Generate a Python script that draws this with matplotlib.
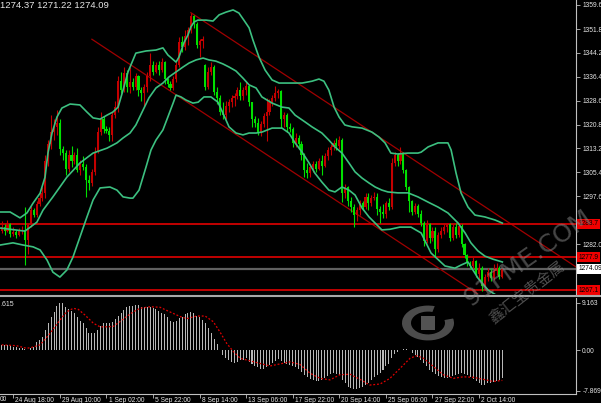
import numpy as np
import matplotlib
matplotlib.use("Agg")
import matplotlib.pyplot as plt
import matplotlib.transforms as mtransforms
from matplotlib.lines import Line2D
from matplotlib.patches import Wedge, Rectangle

# XAUUSD H4 candles
opens = [1286.5, 1287.6, 1286.5, 1288.5, 1285.5, 1286.0, 1285.2, 1286.3, 1286.8, 1283.4,
         1288.3, 1293.0, 1291.5, 1295.0, 1297.0, 1298.5, 1309.0, 1314.5, 1318.5, 1320.0,
         1321.5, 1313.0, 1311.5, 1306.5, 1311.0, 1309.0, 1311.0, 1306.0, 1308.0, 1307.0,
         1303.0, 1302.0, 1305.5, 1312.0, 1318.5, 1322.5, 1319.5, 1318.8, 1317.5, 1324.0,
         1326.5, 1335.0, 1332.0, 1337.5, 1333.0, 1334.5, 1333.0, 1336.5, 1332.0, 1331.0,
         1333.0, 1336.5, 1340.0, 1338.0, 1340.0, 1338.5, 1341.0, 1335.5, 1334.0, 1332.8,
         1335.5, 1340.0, 1347.5, 1346.0, 1349.5, 1351.5, 1356.0, 1353.5, 1346.5, 1347.8,
         1340.0, 1333.0, 1338.0, 1339.5, 1331.5, 1329.5, 1325.0, 1324.0, 1327.0, 1328.0,
         1329.5, 1330.0, 1332.0, 1330.0, 1332.0, 1333.2, 1328.0, 1322.5, 1321.5, 1318.5,
         1321.0, 1323.5, 1325.0, 1328.0, 1329.5, 1331.0, 1331.8, 1322.5, 1324.0, 1320.0,
         1319.5, 1315.0, 1316.5, 1314.5, 1311.0, 1306.0, 1305.0, 1307.0, 1308.0, 1306.5,
         1309.0, 1307.5, 1310.5, 1312.5, 1313.5, 1315.0, 1314.0, 1316.0, 1298.5, 1300.5,
         1296.0, 1294.0, 1291.5, 1293.0, 1295.5, 1294.0, 1297.5, 1295.5, 1297.0, 1297.5,
         1293.5, 1292.5, 1292.0, 1295.5, 1294.0, 1308.5, 1311.0, 1309.0, 1311.5, 1306.0,
         1300.5, 1296.0, 1292.5, 1294.5, 1292.0, 1289.0, 1283.0, 1288.5, 1284.0, 1286.5,
         1280.5, 1285.0, 1286.5, 1287.5, 1288.5, 1284.0, 1287.5, 1285.0, 1288.0, 1282.0,
         1278.5, 1276.0, 1275.0, 1276.5, 1272.5, 1274.5, 1268.5, 1271.5, 1273.0, 1271.0,
         1273.5, 1274.5, 1271.5]
highs = [1289.5, 1288.5, 1290.0, 1288.8, 1287.5, 1286.8, 1287.2, 1288.0, 1294.1, 1289.0,
         1294.5, 1293.8, 1296.0, 1298.5, 1300.5, 1311.0, 1316.0, 1323.9, 1322.5, 1325.5,
         1322.5, 1314.0, 1312.5, 1312.5, 1314.0, 1312.0, 1313.2, 1309.5, 1310.5, 1308.0,
         1304.5, 1306.5, 1313.5, 1320.0, 1325.0, 1323.5, 1320.5, 1320.0, 1325.0, 1328.5,
         1336.5, 1338.0, 1339.5, 1338.5, 1339.5, 1336.0, 1337.5, 1337.0, 1333.0, 1334.0,
         1338.0, 1344.0, 1341.5, 1341.0, 1341.5, 1342.5, 1341.5, 1336.0, 1335.0, 1336.5,
         1341.0, 1349.2, 1349.5, 1351.5, 1352.5, 1357.1, 1356.5, 1354.0, 1348.5, 1349.5,
         1340.5, 1339.5, 1341.0, 1340.0, 1333.0, 1330.5, 1328.0, 1328.5, 1329.0, 1330.5,
         1331.0, 1333.0, 1334.5, 1333.0, 1334.5, 1333.5, 1328.0, 1323.5, 1323.0, 1322.0,
         1324.5, 1329.5, 1329.0, 1330.5, 1333.5, 1332.5, 1332.0, 1325.0, 1324.5, 1321.5,
         1320.0, 1318.0, 1317.5, 1315.5, 1311.5, 1308.5, 1308.0, 1309.0, 1309.0, 1310.0,
         1311.0, 1311.5, 1313.5, 1314.5, 1316.0, 1316.5, 1317.0, 1316.5, 1301.5, 1301.0,
         1297.5, 1295.0, 1294.0, 1296.5, 1296.0, 1298.5, 1298.5, 1298.0, 1299.0, 1298.5,
         1294.5, 1295.0, 1296.0, 1297.0, 1310.0, 1312.0, 1311.5, 1313.5, 1312.0, 1306.5,
         1301.0, 1296.5, 1295.5, 1295.0, 1293.0, 1289.5, 1290.0, 1289.0, 1287.5, 1287.5,
         1286.0, 1287.5, 1288.5, 1289.0, 1289.0, 1288.5, 1289.0, 1289.0, 1288.5, 1282.5,
         1279.0, 1276.5, 1278.0, 1277.0, 1276.0, 1275.0, 1272.5, 1274.5, 1274.5, 1275.5,
         1276.0, 1275.0, 1274.37]
lows = [1285.8, 1285.0, 1286.0, 1284.5, 1284.8, 1284.0, 1284.6, 1285.5, 1275.3, 1278.9,
        1287.8, 1290.8, 1291.0, 1294.5, 1296.0, 1297.0, 1307.5, 1313.0, 1316.0, 1317.5,
        1311.0, 1309.5, 1304.5, 1305.5, 1307.0, 1308.0, 1305.5, 1304.5, 1306.0, 1297.5,
        1299.5, 1301.0, 1304.5, 1311.5, 1317.5, 1318.0, 1318.0, 1315.5, 1315.5, 1323.0,
        1325.0, 1331.0, 1331.5, 1331.5, 1331.0, 1332.0, 1332.0, 1330.0, 1328.5, 1326.5,
        1331.5, 1335.0, 1337.0, 1337.5, 1337.0, 1338.0, 1334.0, 1333.0, 1332.0, 1332.0,
        1334.5, 1339.5, 1344.5, 1345.0, 1346.5, 1350.5, 1352.0, 1345.5, 1342.7, 1345.5,
        1332.0, 1332.5, 1337.0, 1330.5, 1327.5, 1324.0, 1322.5, 1322.5, 1325.0, 1326.5,
        1327.0, 1329.0, 1328.8, 1328.8, 1330.5, 1327.0, 1320.1, 1320.0, 1317.5, 1317.0,
        1320.0, 1315.5, 1324.0, 1327.0, 1328.5, 1329.5, 1319.7, 1320.0, 1318.5, 1318.5,
        1313.5, 1313.5, 1313.0, 1309.5, 1304.0, 1303.5, 1304.0, 1305.5, 1305.5, 1306.0,
        1304.5, 1307.0, 1309.5, 1311.0, 1312.5, 1312.5, 1313.0, 1295.7, 1297.0, 1294.5,
        1292.5, 1287.5, 1289.5, 1291.5, 1293.0, 1293.5, 1293.1, 1294.5, 1296.5, 1291.5,
        1289.0, 1290.5, 1290.5, 1293.0, 1293.5, 1307.5, 1307.5, 1308.0, 1305.0, 1299.5,
        1292.5, 1291.5, 1292.0, 1291.0, 1288.0, 1281.5, 1282.5, 1282.5, 1283.0, 1278.0,
        1279.5, 1284.0, 1285.5, 1286.0, 1283.0, 1283.5, 1284.0, 1284.5, 1281.0, 1277.5,
        1275.0, 1274.0, 1273.5, 1271.5, 1270.5, 1267.0, 1268.0, 1270.0, 1270.0, 1270.5,
        1272.0, 1270.8, 1271.22]
closes = [1287.6, 1286.5, 1288.5, 1285.5, 1286.0, 1285.2, 1286.3, 1286.8, 1283.4, 1288.3,
          1293.0, 1291.5, 1295.0, 1297.0, 1298.5, 1309.0, 1314.5, 1318.5, 1320.0, 1321.5,
          1313.0, 1311.5, 1306.5, 1311.0, 1309.0, 1311.0, 1306.0, 1308.0, 1307.0, 1303.0,
          1302.0, 1305.5, 1312.0, 1318.5, 1322.5, 1319.5, 1318.8, 1317.5, 1324.0, 1326.5,
          1335.0, 1332.0, 1337.5, 1333.0, 1334.5, 1333.0, 1336.5, 1332.0, 1331.0, 1333.0,
          1336.5, 1340.0, 1338.0, 1340.0, 1338.5, 1341.0, 1335.5, 1334.0, 1332.8, 1335.5,
          1340.0, 1347.5, 1346.0, 1349.5, 1351.5, 1356.0, 1353.5, 1346.5, 1347.8, 1348.5,
          1333.0, 1338.0, 1339.5, 1331.5, 1329.5, 1325.0, 1324.0, 1327.0, 1328.0, 1329.5,
          1330.0, 1332.0, 1330.0, 1332.0, 1333.2, 1328.0, 1322.5, 1321.5, 1318.5, 1321.0,
          1323.5, 1325.0, 1328.0, 1329.5, 1331.0, 1331.8, 1322.5, 1324.0, 1320.0, 1319.5,
          1315.0, 1316.5, 1314.5, 1311.0, 1306.0, 1305.0, 1307.0, 1308.0, 1306.5, 1309.0,
          1307.5, 1310.5, 1312.5, 1313.5, 1315.0, 1314.0, 1316.0, 1298.5, 1300.5, 1296.0,
          1294.0, 1291.5, 1293.0, 1295.5, 1294.0, 1297.5, 1295.5, 1297.0, 1297.5, 1293.5,
          1292.5, 1292.0, 1295.5, 1294.0, 1308.5, 1311.0, 1309.0, 1311.5, 1306.0, 1300.5,
          1296.0, 1292.5, 1294.5, 1292.0, 1289.0, 1283.0, 1288.5, 1284.0, 1286.5, 1280.5,
          1285.0, 1286.5, 1287.5, 1288.5, 1284.0, 1287.5, 1285.0, 1288.0, 1282.0, 1278.5,
          1276.0, 1275.0, 1276.5, 1272.5, 1274.5, 1268.5, 1271.5, 1273.0, 1271.0, 1273.5,
          1274.5, 1271.5, 1274.09]

# Bollinger bands, sampled along the curves (bar index, price)
bb_upper_idx = [-0.5, 2.9, 6.3, 8.7, 10.8, 13.2, 14.9, 15.9, 17.3, 19.0, 20.7, 23.5, 26.9,
                29.3, 31.4, 33.8, 36.2, 38.2, 40.0, 41.7, 43.4, 46.1, 49.6, 53.0, 55.4,
                57.1, 59.9, 60.9, 62.6, 64.0, 65.0, 66.1, 67.4, 70.2, 72.6, 74.7, 77.1,
                79.5, 81.5, 83.2, 85.0, 86.3, 88.4, 90.5, 92.9, 95.3, 99.7, 103.2, 106.6,
                109.0, 110.7, 112.4, 114.2, 115.9, 117.9, 120.4, 123.8, 127.2, 129.6, 131.7,
                133.7, 136.1, 139.6, 143.0, 144.1, 146.5, 149.9, 153.3, 154.4, 156.1, 157.8,
                160.2, 162.6, 166.0, 169.5, 172.0]
bb_upper = [1292.5, 1292.5, 1290.6, 1292.2, 1295.4, 1298.6, 1303.8, 1311.6, 1318.1, 1323.3,
            1326.2, 1327.5, 1327.2, 1324.9, 1323.0, 1322.6, 1323.9, 1324.9, 1326.5, 1332.0,
            1337.9, 1344.0, 1344.7, 1345.0, 1345.7, 1343.4, 1341.1, 1342.7, 1347.3, 1349.9,
            1352.5, 1354.1, 1354.7, 1354.7, 1354.4, 1356.4, 1357.3, 1358.0, 1357.0, 1354.7,
            1352.2, 1348.3, 1342.7, 1338.5, 1335.3, 1334.3, 1334.3, 1334.3, 1334.9, 1335.6,
            1334.9, 1332.0, 1326.5, 1323.3, 1320.7, 1320.1, 1319.7, 1318.4, 1316.8, 1314.9,
            1311.6, 1311.3, 1311.6, 1311.6, 1311.9, 1313.6, 1314.9, 1314.9, 1312.6, 1305.1,
            1298.7, 1294.1, 1291.5, 1290.9, 1289.9, 1288.9]
bb_mid_idx = [-0.5, 4.6, 8.0, 12.1, 14.2, 17.6, 22.4, 26.9, 31.4, 36.2, 39.6, 41.7, 44.1,
              46.1, 48.6, 50.6, 53.0, 55.4, 57.5, 59.9, 62.3, 64.4, 66.8, 69.2, 71.2, 73.6,
              76.0, 78.1, 80.5, 82.9, 85.0, 87.4, 89.4, 92.9, 96.3, 98.7, 100.8, 104.2,
              106.6, 110.0, 112.4, 114.5, 116.9, 119.3, 121.4, 123.8, 126.2, 128.3, 130.6,
              132.7, 136.1, 139.6, 143.0, 146.5, 149.9, 153.3, 156.8, 159.2, 161.2, 163.6,
              166.0, 168.8, 172.0]
bb_mid = [1287.3, 1286.7, 1286.3, 1289.2, 1293.1, 1297.4, 1303.8, 1308.4, 1311.6, 1313.2,
          1314.9, 1316.5, 1318.1, 1320.7, 1325.6, 1329.5, 1332.7, 1334.3, 1336.3, 1337.9,
          1339.5, 1340.8, 1341.8, 1342.4, 1341.8, 1341.4, 1340.5, 1339.5, 1338.2, 1335.9,
          1333.7, 1332.7, 1329.8, 1327.8, 1326.5, 1326.2, 1323.9, 1321.7, 1320.1, 1318.1,
          1315.8, 1313.6, 1311.6, 1308.4, 1305.5, 1303.5, 1301.9, 1300.6, 1299.6, 1299.0,
          1298.7, 1298.7, 1297.4, 1295.7, 1294.1, 1292.2, 1288.9, 1285.7, 1282.5, 1279.9,
          1278.2, 1277.2, 1276.3]
bb_lower_idx = [-0.5, 3.9, 7.3, 10.8, 13.2, 15.6, 17.6, 20.0, 22.4, 24.5, 26.9, 29.3, 31.4,
                33.8, 37.2, 39.6, 41.7, 44.1, 45.1, 47.2, 49.6, 51.3, 53.0, 55.4, 57.1, 58.9,
                59.9, 61.6, 63.3, 65.7, 67.5, 69.5, 71.9, 74.3, 76.0, 78.1, 80.5, 82.9, 85.0,
                87.4, 89.4, 92.9, 96.3, 98.7, 100.8, 103.2, 105.6, 107.6, 110.0, 112.4, 114.5,
                116.9, 119.3, 121.4, 123.8, 126.2, 128.3, 130.6, 133.4, 136.8, 140.6, 144.1,
                147.5, 152.3, 155.7, 157.8, 160.2, 163.6, 167.1, 169.8, 172.0]
bb_lower = [1281.8, 1282.5, 1281.8, 1281.2, 1280.2, 1276.9, 1273.0, 1271.4, 1273.7, 1277.9,
            1284.4, 1290.9, 1296.4, 1300.3, 1300.6, 1299.6, 1297.4, 1297.0, 1297.0, 1299.6,
            1307.1, 1312.6, 1315.8, 1319.1, 1323.3, 1327.8, 1330.4, 1329.8, 1328.8, 1327.8,
            1328.1, 1329.8, 1329.8, 1328.1, 1324.6, 1320.1, 1318.1, 1317.5, 1318.1, 1318.1,
            1318.4, 1319.7, 1319.7, 1318.1, 1314.9, 1311.9, 1308.4, 1305.1, 1302.2, 1299.6,
            1299.0, 1300.6, 1299.6, 1298.0, 1293.8, 1290.9, 1288.9, 1286.7, 1286.9, 1287.6,
            1287.6, 1285.7, 1279.2, 1275.0, 1274.3, 1275.3, 1276.3, 1271.1, 1267.2, 1265.6,
            1264.6]

# MACD histogram, one value per bar
macd_hist = [0.97, 0.97, 0.9, 0.8, 0.65, 0.55, 0.45, 0.35, 0.2, 0.1,
             0.4, 0.65, 1.62, 1.94, 2.59, 3.88, 5.18, 6.47, 7.44, 8.54,
             9.06, 9.06, 8.41, 7.9, 7.64, 7.12, 6.34, 5.7, 5.18, 4.21,
             3.37, 3.24, 3.37, 3.88, 4.66, 5.18, 5.31, 5.31, 5.5, 5.95,
             6.6, 7.12, 7.77, 8.28, 8.54, 8.6, 8.67, 8.73, 8.41, 8.28,
             8.28, 8.28, 8.09, 7.9, 7.64, 7.25, 6.99, 6.47, 5.7, 5.5,
             5.7, 6.15, 6.47, 6.99, 7.25, 7.44, 7.12, 6.6, 6.47, 5.83,
             5.18, 4.21, 3.24, 2.07, 1.1, 0.1, -0.97, -1.62, -1.94, -2.27,
             -2.46, -2.27, -1.94, -1.94, -1.62, -2.27, -2.72, -3.11, -3.37, -3.75,
             -3.75, -3.37, -2.91, -2.46, -2.07, -1.81, -2.07, -2.46, -2.72, -2.91,
             -3.11, -3.37, -3.75, -4.2, -4.8, -5.3, -5.7, -5.9, -6.1, -6.1,
             -5.9, -5.5, -5.0, -4.7, -4.5, -4.7, -4.9, -5.8, -6.5, -7.1,
             -7.4, -7.6, -7.6, -7.4, -7.1, -6.8, -6.5, -5.9, -5.3, -4.8,
             -4.4, -3.9, -3.2, -2.7, -1.6, -0.8, -0.3, 0.05, 0.15, 0.15,
             -0.05, -0.5, -1.0, -1.3, -1.9, -2.6, -3.2, -3.8, -4.2, -4.7,
             -5.0, -5.3, -5.5, -5.5, -5.3, -5.0, -4.8, -4.7, -4.5, -4.7,
             -4.8, -5.3, -5.7, -6.1, -6.5, -6.7, -6.7, -6.5, -6.5, -6.3,
             -6.1, -5.9, -5.5]
# signal line, sampled (bar index, value)
sig_idx = [0, 5, 8.5, 10, 13.2, 16.6, 20.0, 22.3, 24.6, 26.3, 28.6, 31.5, 33.8, 36.1, 38.4,
           40.6, 42.9, 45.2, 47.5, 51.0, 54.4, 57.8, 61.3, 63.6, 67.0, 69.9, 72.7, 75.0,
           77.3, 79.6, 81.9, 85.3, 88.7, 92.2, 95.6, 99.0, 102.5, 105.9, 109.4, 112.8,
           116.2, 119.7, 123.1, 126.5, 130.0, 133.4, 136.8, 140.3, 142.6, 144.9, 148.3,
           151.7, 155.2, 158.6, 162.0, 165.5, 168.9, 172.0]
sig_val = [1.0, 0.85, 0.35, 0.45, 1.0, 3.2, 5.8, 7.4, 8.1, 7.9, 6.8, 5.2, 4.5, 4.5, 4.6,
           5.5, 6.5, 7.4, 8.1, 8.4, 8.3, 7.4, 6.5, 6.1, 6.6, 6.6, 5.5, 3.5,
           1.3, -0.3, -1.6, -2.1, -2.6, -3.1, -2.7, -2.3, -2.8, -4.5, -5.5, -5.8,
           -4.8, -4.7, -5.7, -6.8, -6.6, -5.5, -3.6, -1.6, -1.1, -1.6, -3.2,
           -4.8, -5.5, -5.2, -5.3, -5.7, -6.1, -5.9]

# drawn objects
chan_upper_idx = [65, 197.3]
chan_upper_px = [1357.1, 1274.7]
chan_lower_idx = [31, 197.3]
chan_lower_px = [1348.5, 1244.9]
levels = [1288.7, 1277.9, 1267.1]
level_labels = ["1288.7", "1277.9", "1267.1"]
last_close = 1274.09

price_ticks = [1359.6, 1351.8, 1344.2, 1336.4, 1328.6, 1320.8, 1313.2, 1305.4, 1297.6, 1282.0]
macd_ticks = [9.163, 0.0, -7.869]
macd_tick_labels = ["9.163", "0.00", "-7.869"]
time_idx = [4, 20, 36, 52, 68, 84, 100, 116, 132, 148, 164]
time_labels = ["24 Aug 18:00", "29 Aug 10:00", "1 Sep 02:00", "5 Sep 22:00",
               "8 Sep 14:00", "13 Sep 06:00", "17 Sep 22:00", "20 Sep 14:00", "25 Sep 06:00",
               "27 Sep 22:00", "2 Oct 14:00"]

UP = '#c40000'
DOWN = '#00e000'
BAND = '#3cc080'
TXT = '#e6e6e6'
AXC = '#c0c0c0'
FONT = 'Liberation Sans'

W, H = 601, 403
fig = plt.figure(figsize=(W / 100, H / 100), dpi=100, facecolor='black')
ax = fig.add_axes([0, 1 - 294 / H, 576 / W, 294 / H], facecolor='black')
axm = fig.add_axes([0, 1 - 394 / H, 576 / W, 96 / H], facecolor='black')

o = np.array(opens)
h = np.array(highs)
l = np.array(lows)
c = np.array(closes)
x = np.arange(len(c))
col = np.where(c >= o, UP, DOWN)

ax.vlines(x, l, h, colors=col, lw=0.8, zorder=3)
ax.bar(x, np.maximum(np.abs(c - o), 0.3), bottom=np.minimum(o, c), width=0.72,
       color=col, linewidth=0, zorder=3)

for bi, bv in [(bb_upper_idx, bb_upper), (bb_mid_idx, bb_mid), (bb_lower_idx, bb_lower)]:
    ax.plot(bi, bv, color=BAND, lw=1.2, zorder=4)

ax.plot(chan_upper_idx, chan_upper_px, color='#a00000', lw=0.9, zorder=2)
ax.plot(chan_lower_idx, chan_lower_px, color='#a00000', lw=0.9, zorder=2)
for lv in levels:
    ax.axhline(lv, color='#d00000', lw=1.3, zorder=2)
ax.axhline(last_close, color='#606060', lw=1.6, zorder=1)

ax.set_xlim(-0.57, 197.3)
ax.set_ylim(1265.92, 1361.22)
axm.set_xlim(-0.57, 197.3)
axm.set_ylim(-8.54, 10.1)

for a in (ax, axm):
    for s in ('top', 'left', 'bottom'):
        a.spines[s].set_visible(False)
    a.spines['right'].set_color(AXC)
    a.spines['right'].set_linewidth(0.8)
    a.yaxis.tick_right()
    a.tick_params(axis='y', direction='out', length=3, width=0.6, color=AXC,
                  labelsize=4.8, labelcolor=TXT, pad=1.5)
axm.spines['bottom'].set_visible(True)
axm.spines['bottom'].set_color(AXC)
axm.spines['bottom'].set_linewidth(0.8)

ax.set_xticks([])
ax.set_yticks(price_ticks)
ax.set_yticklabels([f"{v:.1f}" for v in price_ticks], fontfamily=FONT)

axm.bar(x, macd_hist, width=0.35, color='#b8b8b8', linewidth=0)
axm.plot(sig_idx, sig_val, color='#e00000', lw=0.9, ls=(0, (1.5, 1.5)))
axm.set_yticks(macd_ticks)
axm.set_yticklabels(macd_tick_labels, fontfamily=FONT)
axm.set_xticks(time_idx)
axm.set_xticklabels([])
axm.tick_params(axis='x', direction='out', length=3, width=0.6, color=AXC)
for ti, tl in zip(time_idx, time_labels):
    axm.annotate(tl, xy=(ti, 0), xycoords=('data', 'axes fraction'), xytext=(1.5, -2.5),
                 textcoords='offset points', ha='left', va='top', fontsize=4.8,
                 color=TXT, fontfamily=FONT, annotation_clip=False)
# tail of the previous date label, cut by the left edge
fig.text(0.0, 1 - 396 / H, "00", ha='left', va='top', fontsize=4.8, color=TXT,
         fontfamily=FONT)

# price boxes on the axis
bt = mtransforms.blended_transform_factory(ax.transAxes, ax.transData)
for lv, lt in zip(levels, level_labels):
    ax.text(1.004, lv, lt, transform=bt, ha='left', va='center', fontsize=4.8,
            fontfamily=FONT, color='black', clip_on=False, zorder=6,
            bbox=dict(boxstyle='square,pad=0.25', fc='#f00000', ec='none'))
ax.text(1.004, last_close, f"{last_close:.2f}", transform=bt, ha='left', va='center',
        fontsize=4.8, fontfamily=FONT, color='black', clip_on=False, zorder=6,
        bbox=dict(boxstyle='square,pad=0.25', fc='white', ec='none'))

# separator between panels
fig.add_artist(Line2D([0, 1], [1 - 296 / H] * 2, color='#a8a8a8', lw=1.5))

fig.text(0.0, 1 - 0.5 / H, "1274.37 1271.22 1274.09", ha='left', va='top', fontsize=6.8,
         color=TXT, fontfamily=FONT)
fig.text(0.0, 1 - 305 / H, ".615", ha='left', va='center', fontsize=5, color=TXT,
         fontfamily=FONT)

# watermark
wm = '#8c8c8c'
fig.text(528 / W, 1 - 258 / H, "91FME.COM", rotation=35, ha='center', va='center',
         fontsize=18, color=wm, alpha=0.5, fontfamily='DejaVu Sans')
fig.text(527 / W, 1 - 292 / H, "鑫汇宝贵金属", rotation=38, ha='center', va='center',
         fontsize=11, color=wm, alpha=0.55, fontfamily=['Noto Sans CJK SC', 'DejaVu Sans'])
cx, cy = 428 / W, 1 - 323 / H
fig.patches.append(Wedge((cx, cy), 26 / W, 75, 15, width=9 / W,
                         transform=fig.transFigure, fc=wm, alpha=0.55, ec='none'))
sq = Rectangle((cx - 7 / W, cy - 7 / H), 14 / W, 14 / H, transform=fig.transFigure,
               fc=wm, alpha=0.6, ec='none')
fig.patches.append(sq)

fig.savefig('out.png', dpi=100, facecolor='black')
